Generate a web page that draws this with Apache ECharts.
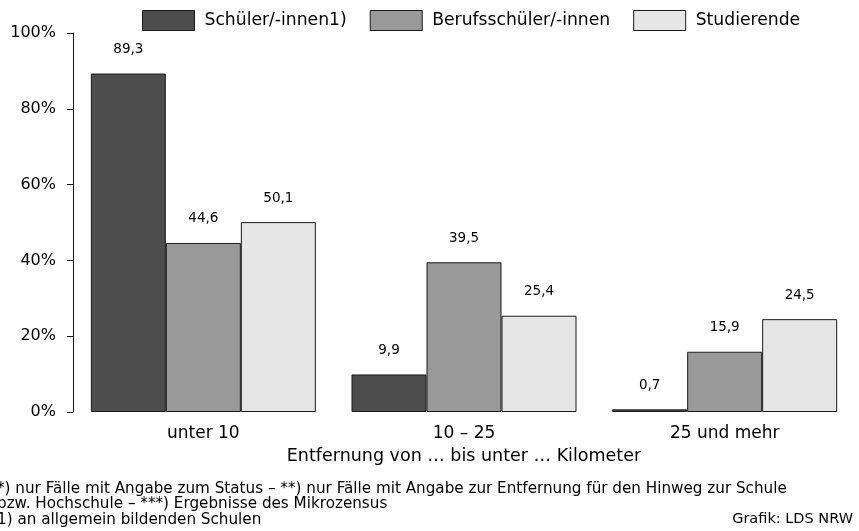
<!DOCTYPE html>
<html>
<head>
<meta charset="utf-8">
<script src="https://cdn.jsdelivr.net/npm/echarts@6/dist/echarts.min.js"></script>
<style>
html, body { margin: 0; padding: 0; background: #fff; }
#chart { width: 859px; height: 531px; }
</style>
</head>
<body>
<div id="chart"></div>
<script>
var categories = ['unter 10', '10 – 25', '25 und mehr'];
var seriesNames = ['Schüler/-innen1)', 'Berufsschüler/-innen', 'Studierende'];
var schueler = [89.3, 9.9, 0.7];
var berufsschueler = [44.6, 39.5, 15.9];
var studierende = [50.1, 25.4, 24.5];
var colors = ['#4d4d4d', '#999999', '#e6e6e6'];

var font = 'DejaVu Sans';
var dom = document.getElementById('chart');
var myChart = echarts.init(dom);

function makeSeries(name, data, color) {
    return {
        name: name,
        type: 'bar',
        data: data,
        barWidth: 75,
        barGap: '0%',
        itemStyle: { color: color, borderColor: '#1a1a1a', borderWidth: 1 },
        label: {
            show: true,
            position: 'top',
            distance: 17,
            color: '#000',
            fontFamily: font,
            fontSize: 13.5,
            formatter: function (p) { return String(p.value).replace('.', ','); }
        }
    };
}

var option = {
    animation: false,
    textStyle: { fontFamily: font },
    legend: {
        top: 5,
        left: 137,
        icon: 'rect',
        itemWidth: 52,
        itemHeight: 20,
        itemGap: 23,
        textStyle: { fontFamily: font, fontSize: 17.2, color: '#000', padding: [0, 0, 0, 5] },
        data: seriesNames.map(function (n, i) {
            return { name: n, itemStyle: { color: colors[i], borderColor: '#1a1a1a', borderWidth: 1 } };
        })
    },
    grid: { left: 73, right: 4, top: 33, bottom: 119, containLabel: false },
    xAxis: {
        type: 'category',
        data: categories,
        axisLine: { show: false },
        axisTick: { show: false },
        axisLabel: { color: '#000', fontFamily: font, fontSize: 17, margin: 13 },
        name: 'Entfernung von … bis unter … Kilometer',
        nameLocation: 'middle',
        nameGap: 35,
        nameTextStyle: { color: '#000', fontFamily: font, fontSize: 17.5 }
    },
    yAxis: {
        type: 'value',
        min: 0,
        max: 100,
        interval: 20,
        axisLine: { show: true, lineStyle: { color: '#1a1a1a', width: 1 } },
        axisTick: { show: true, inside: false, length: 6, lineStyle: { color: '#1a1a1a' } },
        splitLine: { show: false },
        axisLabel: { color: '#000', fontFamily: font, fontSize: 16, margin: 17, formatter: '{value}%' }
    },
    series: [
        makeSeries(seriesNames[0], schueler, colors[0]),
        makeSeries(seriesNames[1], berufsschueler, colors[1]),
        makeSeries(seriesNames[2], studierende, colors[2])
    ],
    graphic: [
        {
            type: 'text', left: -3, top: 481,
            style: {
                text: '*) nur Fälle mit Angabe zum Status – **) nur Fälle mit Angabe zur Entfernung für den Hinweg zur Schule\nbzw. Hochschule – ***) Ergebnisse des Mikrozensus\n1) an allgemein bildenden Schulen',
                font: '15.2px "DejaVu Sans"', fill: '#000', lineHeight: 15.5
            }
        },
        {
            type: 'text', right: 6, top: 512,
            style: { text: 'Grafik: LDS NRW', font: '14.5px "DejaVu Sans"', fill: '#000' }
        }
    ]
};

myChart.setOption(option, true);
</script>
</body>
</html>
